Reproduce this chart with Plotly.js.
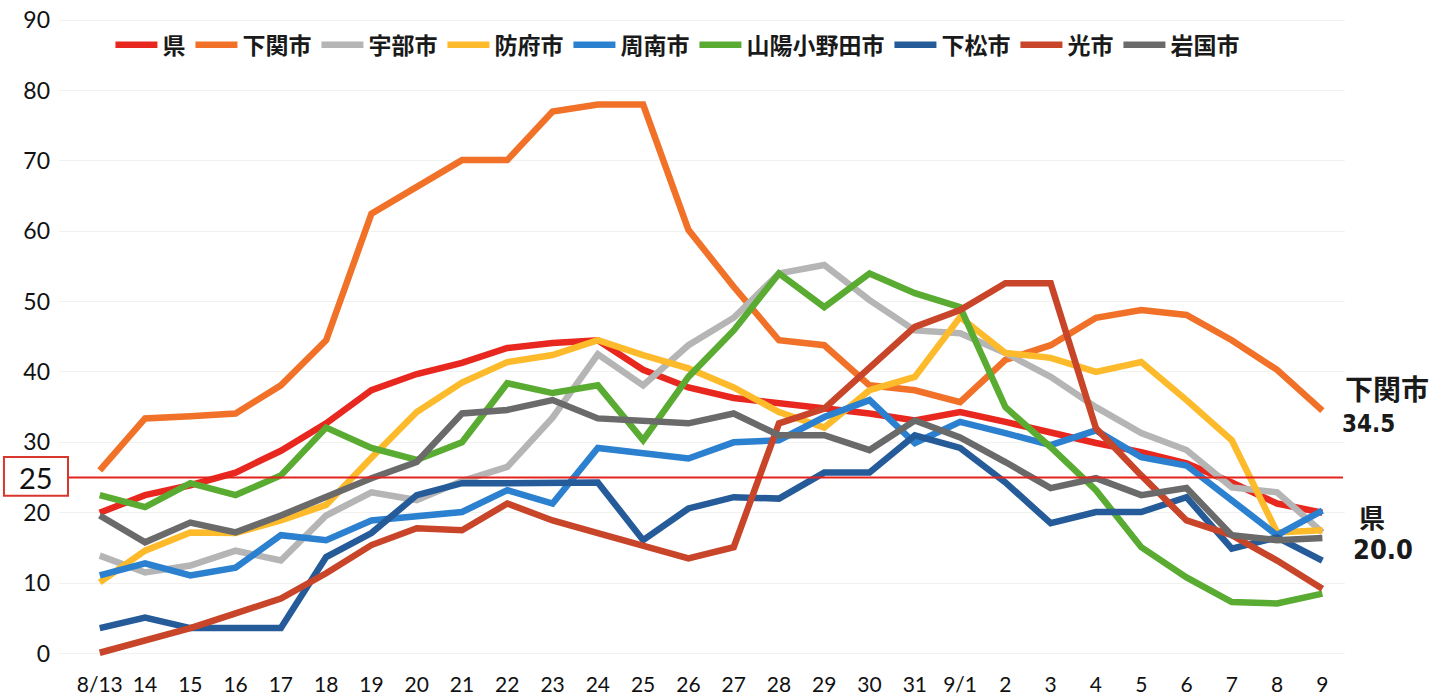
<!DOCTYPE html>
<html>
<head>
<meta charset="utf-8">
<script src="https://cdn.plot.ly/plotly-3.0.1.min.js"></script>
<style>
  html, body { margin: 0; padding: 0; background: #fff; }
  #plot { width: 1450px; height: 699px; }
</style>
</head>
<body>
<div id="plot"></div>
<script>
// dates 8/13 - 9/9
var days = ["8/13", "14", "15", "16", "17", "18", "19", "20", "21", "22", "23", "24", "25", "26", "27",
  "28", "29", "30", "31", "9/1", "2", "3", "4", "5", "6", "7", "8", "9"];

var ken = [20.0, 22.5, 23.9, 25.7, 28.8, 32.7, 37.4, 39.7, 41.3, 43.4, 44.1, 44.5, 40.3, 37.8, 36.3,
  35.6, 35.0, 34.1, 33.1, 34.3, 32.9, 31.3, 29.9, 28.6, 27.0, 24.3, 21.3, 20.0];
var shimonoseki = [26.0, 33.4, 33.7, 34.1, 38.1, 44.5, 62.5, 66.3, 70.1, 70.1, 77.0, 78.0, 78.0, 60.2, 52.1,
  44.5, 43.8, 38.1, 37.4, 35.7, 41.7, 43.8, 47.7, 48.8, 48.1, 44.5, 40.3, 34.5];
var ube = [13.9, 11.5, 12.5, 14.6, 13.2, 19.6, 22.9, 21.8, 24.5, 26.5, 33.5, 42.5, 38.1, 43.8, 47.7,
  54.0, 55.2, 50.2, 45.9, 45.5, 42.7, 39.3, 35.0, 31.3, 28.9, 23.6, 22.9, 17.2];
var hofu = [10.1, 14.6, 17.2, 17.1, 18.9, 21.1, 27.8, 34.3, 38.5, 41.4, 42.4, 44.5, 42.4, 40.5, 37.8,
  34.3, 32.1, 37.4, 39.3, 47.8, 42.7, 42.0, 40.0, 41.4, 36.0, 30.3, 17.2, 17.5];
var shunan = [11.1, 12.8, 11.1, 12.2, 16.8, 16.1, 18.9, 19.4, 20.1, 23.2, 21.3, 29.2, 28.4, 27.7, 30.0,
  30.3, 33.6, 36.0, 29.9, 32.9, 31.3, 29.6, 31.7, 27.9, 26.7, 21.8, 16.8, 20.3];
var sanyoOnoda = [22.5, 20.8, 24.2, 22.5, 25.3, 32.1, 29.2, 27.5, 30.0, 38.4, 37.0, 38.1, 30.3, 39.3, 45.9,
  54.0, 49.2, 54.0, 51.2, 49.2, 35.0, 29.3, 23.2, 15.1, 10.8, 7.3, 7.1, 8.5];
var kudamatsu = [3.6, 5.1, 3.6, 3.6, 3.6, 13.7, 17.1, 22.5, 24.2, 24.2, 24.2, 24.3, 16.1, 20.6, 22.2,
  22.0, 25.7, 25.7, 31.0, 29.2, 24.3, 18.5, 20.1, 20.1, 22.2, 14.9, 16.5, 13.2];
var hikari = [0.1, 1.8, 3.6, 5.7, 7.8, 11.4, 15.4, 17.8, 17.5, 21.3, 18.9, 17.1, 15.4, 13.5, 15.1,
  32.7, 34.8, 40.7, 46.4, 48.8, 52.6, 52.6, 32.0, 25.3, 18.9, 16.8, 13.2, 9.2];
var iwakuni = [19.6, 15.8, 18.6, 17.2, 19.6, 22.2, 24.9, 27.2, 34.1, 34.6, 36.0, 33.4, 33.1, 32.7, 34.1,
  31.0, 31.0, 28.9, 33.1, 30.7, 27.2, 23.5, 24.9, 22.5, 23.5, 16.8, 16.1, 16.4];

var names = ["県", "下関市", "宇部市", "防府市", "周南市", "山陽小野田市", "下松市", "光市", "岩国市"];
var series = [ken, shimonoseki, ube, hofu, shunan, sanyoOnoda, kudamatsu, hikari, iwakuni];
var colors = ["#e8271f", "#f07127", "#b5b5b5", "#fdbb2b", "#2b80cf", "#5aab31", "#255b98", "#c8452a", "#6a6a6a"];

var data = [];
for (var i = 0; i < series.length; i++) {
  data.push({
    x: days,
    y: series[i],
    type: "scatter",
    mode: "lines",
    name: names[i],
    line: { color: colors[i], width: 6.5 }
  });
}

var layout = {
  width: 1450,
  height: 699,
  margin: { l: 59, r: 105, t: 6, b: 35 },
  paper_bgcolor: "#ffffff",
  plot_bgcolor: "#ffffff",
  font: { family: "Lato, 'Noto Sans CJK JP', sans-serif", color: "#111111" },
  showlegend: true,
  legend: {
    orientation: "h",
    x: 0.04,
    y: 0.941,
    xanchor: "left",
    yanchor: "middle",
    itemwidth: 42,
    bgcolor: "rgba(0,0,0,0)",
    font: { family: "'Noto Sans CJK JP', sans-serif", size: 23, weight: "bold", color: "#1a1a1a" }
  },
  xaxis: {
    type: "category",
    range: [-0.9, 27.5],
    showgrid: false,
    zeroline: false,
    showline: false,
    ticks: "",
    ticklabelstandoff: 6,
    tickfont: { size: 21, family: "Lato, sans-serif", color: "#111111" }
  },
  yaxis: {
    range: [-1.5, 92],
    tickvals: [0, 10, 20, 30, 40, 50, 60, 70, 80, 90],
    showgrid: true,
    gridcolor: "#f1f1ee",
    gridwidth: 1,
    zeroline: false,
    showline: false,
    ticks: "",
    ticklabelstandoff: 8,
    tickfont: { size: 23, family: "Lato, sans-serif", color: "#111111" }
  },
  shapes: [
    {
      type: "line", xref: "paper", yref: "y",
      x0: 0.007, x1: 0.9984, y0: 25, y1: 25,
      line: { color: "#e3231c", width: 2 }
    },
    {
      type: "rect", xref: "paper", yref: "y",
      x0: -0.0428, x1: 0.007, y0: 22.4, y1: 27.9,
      line: { color: "#d9362c", width: 2 },
      fillcolor: "rgba(255,255,255,0)"
    }
  ],
  annotations: [
    {
      xref: "paper", yref: "y", x: -0.0179, y: 25, text: "25", showarrow: false,
      xanchor: "center", yanchor: "middle",
      font: { size: 29, family: "Lato, sans-serif", color: "#111111" }
    },
    {
      xref: "paper", yref: "y", x: 1.0327, y: 37.7, text: "下関市", showarrow: false,
      xanchor: "center", yanchor: "middle",
      font: { size: 28, family: "'Noto Sans CJK JP', sans-serif", weight: "bold", color: "#1a1a1a" }
    },
    {
      xref: "paper", yref: "y", x: 1.0179, y: 32.6, text: "34.5", showarrow: false,
      xanchor: "center", yanchor: "middle",
      font: { size: 24, family: "'DejaVu Sans Condensed', 'Noto Sans', sans-serif", weight: "bold", color: "#1a1a1a" }
    },
    {
      xref: "paper", yref: "y", x: 1.021, y: 19.4, text: "県", showarrow: false,
      xanchor: "center", yanchor: "middle",
      font: { size: 26, family: "'Noto Sans CJK JP', sans-serif", weight: "bold", color: "#1a1a1a" }
    },
    {
      xref: "paper", yref: "y", x: 1.0295, y: 14.7, text: "20.0", showarrow: false,
      xanchor: "center", yanchor: "middle",
      font: { size: 27, family: "'DejaVu Sans Condensed', 'Noto Sans', sans-serif", weight: "bold", color: "#1a1a1a" }
    }
  ]
};

Plotly.newPlot("plot", data, layout, { displayModeBar: false });
</script>
</body>
</html>
